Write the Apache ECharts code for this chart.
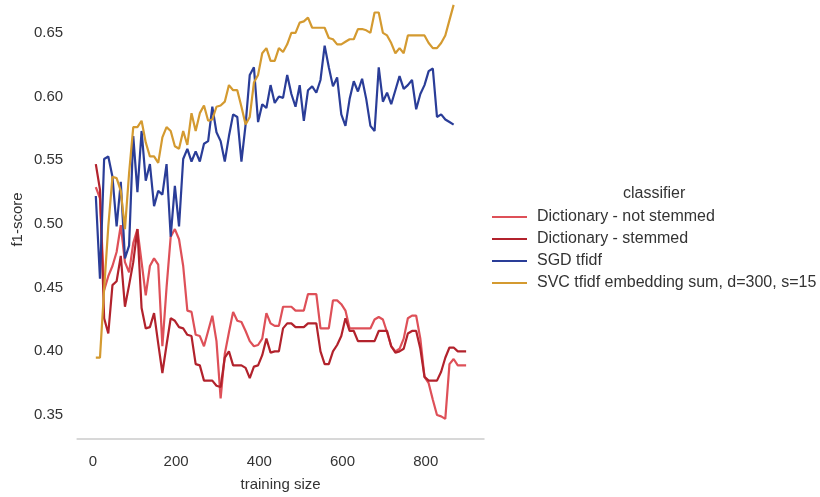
<!DOCTYPE html>
<html>
<head>
<meta charset="utf-8">
<script src="https://cdn.jsdelivr.net/npm/echarts@6/dist/echarts.min.js"></script>
<style>html,body{margin:0;padding:0;background:#fff}#chart{width:820px;height:497px}</style>
</head>
<body>
<div id="chart"></div>
<script>
const trainingSize = [7,17,27,37,47,57,67,77,87,97,107,117,127,137,147,157,167,177,187,197,207,217,227,237,247,257,267,277,287,297,307,317,327,337,347,357,367,377,387,397,407,417,427,437,447,457,467,477,487,497,507,517,527,537,547,557,567,577,587,597,607,617,627,637,647,657,667,677,687,697,707,717,727,737,747,757,767,777,787,797,807,817,827,837,847,857,867,877,887,897];

const dictNotStemmed = [0.529,0.520,0.448,0.459,0.467,0.478,0.499,0.470,0.462,0.485,
0.496,0.470,0.444,0.467,0.473,0.468,0.404,0.450,0.490,0.496,
0.488,0.467,0.432,0.431,0.413,0.412,0.404,0.416,0.428,0.408,
0.363,0.398,0.415,0.431,0.424,0.423,0.416,0.408,0.404,0.405,
0.410,0.430,0.422,0.420,0.420,0.435,0.435,0.435,0.432,0.432,
0.432,0.445,0.445,0.445,0.418,0.418,0.418,0.440,0.440,0.437,
0.432,0.418,0.418,0.418,0.418,0.418,0.418,0.425,0.427,0.425,
0.415,0.404,0.400,0.402,0.410,0.426,0.428,0.428,0.410,0.380,
0.375,0.362,0.350,0.349,0.347,0.390,0.394,0.389,0.389,0.389];

const dictStemmed = [0.547,0.527,0.426,0.414,0.452,0.455,0.475,0.435,0.452,0.470,
0.496,0.434,0.418,0.419,0.430,0.406,0.383,0.405,0.426,0.424,
0.419,0.418,0.413,0.412,0.390,0.389,0.377,0.377,0.377,0.373,
0.372,0.395,0.400,0.389,0.389,0.389,0.387,0.379,0.388,0.389,
0.397,0.410,0.399,0.400,0.400,0.418,0.422,0.422,0.419,0.419,
0.419,0.422,0.422,0.422,0.400,0.390,0.390,0.400,0.405,0.412,
0.426,0.416,0.416,0.408,0.408,0.408,0.408,0.408,0.416,0.416,
0.416,0.404,0.399,0.400,0.402,0.414,0.416,0.416,0.402,0.380,
0.377,0.377,0.377,0.384,0.395,0.403,0.403,0.400,0.400,0.400];

const sgdTfidf = [0.522,0.457,0.551,0.553,0.537,0.498,0.533,0.473,0.483,0.569,
0.525,0.573,0.534,0.547,0.514,0.526,0.523,0.547,0.490,0.530,
0.498,0.551,0.559,0.549,0.557,0.549,0.563,0.565,0.592,0.572,
0.565,0.549,0.569,0.586,0.584,0.549,0.578,0.617,0.623,0.580,
0.594,0.591,0.609,0.595,0.600,0.599,0.617,0.602,0.592,0.609,
0.581,0.605,0.608,0.603,0.613,0.640,0.623,0.608,0.615,0.586,
0.577,0.598,0.612,0.604,0.614,0.598,0.577,0.573,0.623,0.596,
0.603,0.594,0.605,0.616,0.606,0.609,0.613,0.590,0.602,0.609,
0.620,0.622,0.584,0.586,0.582,0.580,0.578];

const svcEmbedding = [0.395,0.395,0.449,0.498,0.537,0.536,0.526,0.496,0.540,0.576,
0.576,0.581,0.564,0.553,0.553,0.548,0.568,0.576,0.573,0.561,
0.559,0.573,0.562,0.587,0.573,0.587,0.593,0.581,0.582,0.592,
0.593,0.596,0.609,0.605,0.605,0.592,0.578,0.584,0.611,0.617,
0.634,0.638,0.628,0.628,0.638,0.635,0.641,0.650,0.650,0.658,
0.659,0.662,0.654,0.654,0.654,0.654,0.646,0.645,0.641,0.641,
0.643,0.645,0.645,0.653,0.653,0.652,0.650,0.666,0.666,0.650,
0.648,0.642,0.634,0.638,0.634,0.648,0.648,0.648,0.648,0.648,
0.642,0.638,0.638,0.642,0.648,0.660,0.672];

const seriesNames = ['Dictionary - not stemmed','Dictionary - stemmed','SGD tfidf','SVC tfidf embedding sum, d=300, s=15'];
const xTicks = [0,200,400,600,800];
const yTicks = [0.35,0.40,0.45,0.50,0.55,0.60,0.65];

const colors = ['#de5058','#b2222c','#2a3d98','#d49a30'];
const valuesList = [dictNotStemmed, dictStemmed, sgdTfidf, svcEmbedding];

const FONT = '"Liberation Sans", Arial, sans-serif';
const chart = echarts.init(document.getElementById('chart'), null, {renderer:'canvas'});
chart.setOption({
  animation: false,
  backgroundColor: '#ffffff',
  title: {
    text: 'classifier', left: 618, top: 181,
    textStyle: {fontFamily: FONT, fontSize: 16, fontWeight: 'normal', color: '#333333'}
  },
  legend: {
    orient: 'vertical', left: 487, top: 204,
    itemWidth: 35, itemHeight: 10, itemGap: 6,
    icon: 'path://M0,4 L34,4 L34,6 L0,6 Z',
    textStyle: {fontFamily: FONT, fontSize: 16, color: '#333333', padding: [0,0,0,5]},
    data: seriesNames
  },
  grid: {left: 73, right: 336, top: 0, bottom: 57},
  xAxis: {
    type: 'value', min: -38, max: 940,
    name: 'training size', nameLocation: 'middle', nameGap: 38,
    nameTextStyle: {fontFamily: FONT, fontSize: 15, color: '#333333'},
    axisLine: {show: true, lineStyle: {color: '#cccccc', width: 1.5}},
    axisTick: {show: false},
    splitLine: {show: false},
    axisLabel: {customValues: xTicks, fontFamily: FONT, fontSize: 15, color: '#333333', margin: 15}
  },
  yAxis: {
    type: 'value', min: 0.3312, max: 0.6758,
    name: 'f1-score', nameLocation: 'middle', nameGap: 52, nameRotate: 90,
    nameTextStyle: {fontFamily: FONT, fontSize: 15, color: '#333333'},
    axisLine: {show: false},
    axisTick: {show: false},
    splitLine: {show: false},
    axisLabel: {customValues: yTicks, fontFamily: FONT, fontSize: 15, color: '#333333', margin: 14,
      formatter: v => v.toFixed(2)}
  },
  series: seriesNames.map((name, i) => ({
    name: name,
    type: 'line',
    showSymbol: false,
    symbol: 'none',
    color: colors[i],
    lineStyle: {width: 2.2, color: colors[i]},
    data: valuesList[i].map((v, j) => [trainingSize[j], v])
  }))
});
</script>
</body>
</html>
